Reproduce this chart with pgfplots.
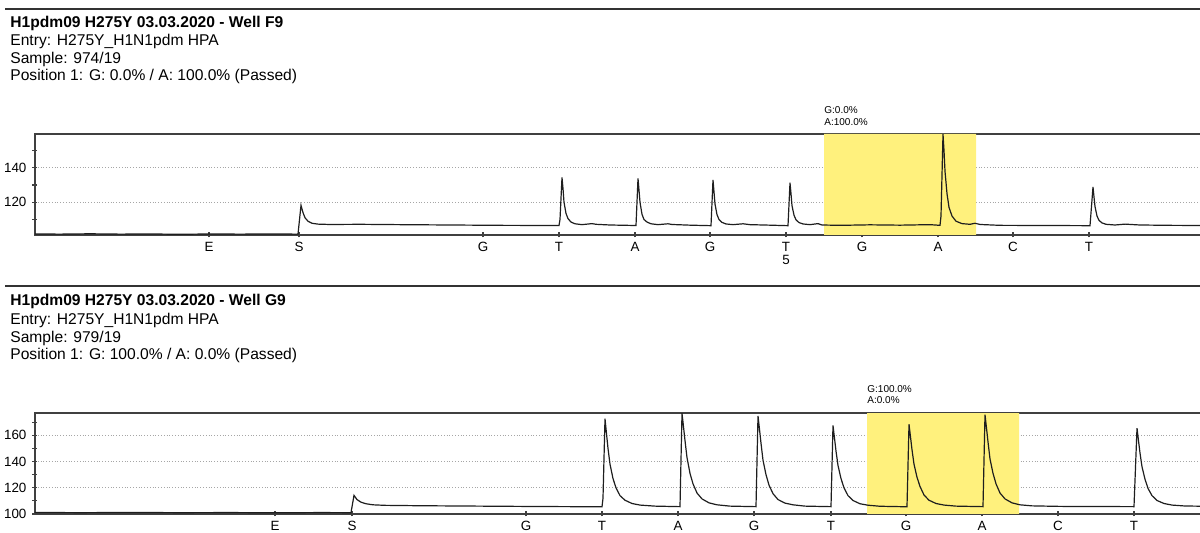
\documentclass[border=0pt]{standalone}
\usepackage{fontspec}
\setmainfont{Liberation Sans}
\usepackage{pgfplots}
\pgfplotsset{compat=1.18}

\definecolor{hilite}{RGB}{255,241,125}
\definecolor{trace}{RGB}{30,30,30}

\pgfplotsset{
  pyro/.style={
    scale only axis,
    width=585pt, height=50.5pt,
    xmin=35, xmax=1205,
    axis line style={line width=0.7pt, black!75},
    xtick pos=bottom, ytick pos=left,
    tick align=center,
    major tick length=2.5pt, minor tick length=2.5pt,
    every tick/.style={line width=0.6pt, black!75},
    ymajorgrids,
    grid style={densely dotted, black!35, line width=0.5pt},
    ticklabel style={font=\fontsize{6.7}{6.2}\selectfont},
    y tick label style={xshift=0.5pt},
    x tick label style={align=center, yshift=1pt},
    /pgf/number format/assume math mode=true,
    clip=true,
  },
}

\newcommand{\headfont}{\fontsize{7.8}{8.75}\selectfont}
\newcommand{\boxfont}{\fontsize{5}{6}\selectfont}

\begin{document}
\begin{tikzpicture}
% the sheet is 1200x533 px, 1 px = 0.5pt
\path[use as bounding box] (0,0) rectangle (600pt,-266.5pt);
\begin{scope}[x=0.5pt, y=-0.5pt]
  \draw[line width=0.75pt, black!80] (5,9) -- (1200,9);
  \node[anchor=base west, inner sep=0, font=\headfont\bfseries] at (10,28) {H1pdm09 H275Y 03.03.2020 - Well F9};
  \node[anchor=base west, inner sep=0, font=\headfont] at (10,46) {Entry: H275Y\_H1N1pdm HPA};
  \node[anchor=base west, inner sep=0, font=\headfont] at (10,63.5) {Sample: 974/19};
  \node[anchor=base west, inner sep=0, font=\headfont] at (10,81) {Position 1: G: 0.0\% / A: 100.0\% (Passed)};
  \node[anchor=base west, inner sep=0, font=\boxfont] at (824,114) {G:0.0\%};
  \node[anchor=base west, inner sep=0, font=\boxfont] at (824,126) {A:100.0\%};

  \draw[line width=0.75pt, black!80] (5,286) -- (1200,286);
  \node[anchor=base west, inner sep=0, font=\headfont\bfseries] at (10,306) {H1pdm09 H275Y 03.03.2020 - Well G9};
  \node[anchor=base west, inner sep=0, font=\headfont] at (10,325) {Entry: H275Y\_H1N1pdm HPA};
  \node[anchor=base west, inner sep=0, font=\headfont] at (10,342.5) {Sample: 979/19};
  \node[anchor=base west, inner sep=0, font=\headfont] at (10,360) {Position 1: G: 100.0\% / A: 0.0\% (Passed)};
  \node[anchor=base west, inner sep=0, font=\boxfont] at (867,392.5) {G:100.0\%};
  \node[anchor=base west, inner sep=0, font=\boxfont] at (867,404) {A:0.0\%};
\end{scope}

% ---- Well F9 ----
\begin{axis}[pyro,
  at={(17.5pt,-117.5pt)}, anchor=south west,
  ymin=101, ymax=159.6,
  ytick={120,140}, minor ytick={110,130,150},
  xtick={209,299,483,559,635,710,786,862,938,1013,1089},
  xticklabels={E,S,G,T,A,G,{T\\5},G,A,C,T},
]
\addplot[fill=hilite, draw=none] coordinates {(824,101) (976,101) (976,159.6) (824,159.6) (824,101)};
\addplot[trace, line width=0.6pt] coordinates {
  (35,101.6) (60,101.5) (90,101.7) (120,101.5) (150,101.6) (180,101.4) (210,101.6) (240,101.5) (270,101.6) (297,101.5)
  (298,101.5) (301,118.2) (303,114) (305,111) (308,109) (312,107.8) (318,107.3) (330,107.1) (360,107.2) (400,107.0)
  (450,106.8) (500,106.6) (559,106.5)
  (560,110) (562,134.4) (563,128) (564,120) (566,113.5) (568,110.5) (571,108.5) (575,107.5) (582,107) (592,107.6)
  (596,107.2) (610,106.8) (636,106.5)
  (638,133.8) (639,127) (640,120) (642,113) (644,110) (647,108.5) (651,107.5) (658,107) (668,107.5) (672,107.1)
  (690,106.7) (711,106.4)
  (713,133) (714,126) (715,119) (717,112.8) (719,110) (722,108.3) (726,107.4) (733,107) (743,107.5) (750,107)
  (770,106.7) (788,106.4)
  (790,131.3) (791,125) (792,118) (794,112.5) (796,109.8) (799,108.2) (803,107.4) (810,107) (818,107.6) (822,106.8)
  (840,106.6) (870,106.9) (900,106.7) (930,107) (940,106.6)
  (941,112) (943,159.5) (944,150) (945,138) (947,125) (949,117) (952,112) (956,109) (962,107.6) (970,107.2)
  (975,107.8) (980,107.1) (1000,106.6) (1050,106.5) (1090,106.4)
  (1093,128.9) (1094,123) (1095,117.5) (1097,112) (1099,109.5) (1102,108) (1106,107.2) (1115,106.8) (1125,107.3)
  (1140,106.8) (1170,106.6) (1205,106.5)
};
\end{axis}

% ---- Well G9 ----
\begin{axis}[pyro,
  at={(17.5pt,-257pt)}, anchor=south west,
  ymin=100, ymax=177,
  ytick={100,120,140,160}, minor ytick={110,130,150,170},
  xtick={275,352,526,602,678,754,831,906,982,1058,1134},
  xticklabels={E,S,G,T,A,G,T,G,A,C,T},
]
\addplot[fill=hilite, draw=none] coordinates {(867,100) (1019,100) (1019,177) (867,177) (867,100)};
\addplot[trace, line width=0.6pt] coordinates {
  (35,101.2) (80,101.0) (130,101.2) (180,101.0) (230,101.1) (280,100.9) (320,101.1) (351,101.0)
  (354,114.2) (357,111) (361,109) (366,107.8) (373,107) (385,106.6) (420,106.3) (480,106.0) (540,105.7) (602,105.5)
  (603,112) (605,172.7) (606,165) (608,150) (610,138) (613,127) (616,120) (620,114) (625,110.5) (632,108)
  (640,106.8) (655,106) (680,105.6)
  (682,176.8) (683,170) (685,156) (687,143) (690,131) (693,123) (697,116) (702,111.5) (709,108.5) (717,107)
  (730,106) (756,105.6)
  (758,174.7) (759,168) (761,154) (763,141) (766,130) (769,122) (773,115.5) (778,111) (785,108.3) (793,107)
  (805,106) (831,105.6)
  (833,167.6) (834,161) (836,148) (838,137) (841,127) (844,120) (848,114) (853,110.3) (860,107.8) (868,106.7)
  (880,105.9) (907,105.5)
  (909,168.4) (910,162) (912,149) (914,138) (917,128) (920,121) (924,114.5) (929,110.5) (936,108) (944,106.8)
  (956,106) (983,105.6)
  (985,175.7) (986,169) (988,155) (990,142) (993,131) (996,123) (1000,116) (1005,111.5) (1012,108.5) (1020,107)
  (1032,106.2) (1060,105.8) (1100,105.7) (1134,105.6)
  (1137,165.5) (1138,159) (1140,146.5) (1142,136) (1145,126.5) (1148,119.5) (1152,114) (1157,110.3) (1164,108)
  (1172,106.8) (1185,106.1) (1205,105.9)
};
\end{axis}
\end{tikzpicture}
\end{document}
